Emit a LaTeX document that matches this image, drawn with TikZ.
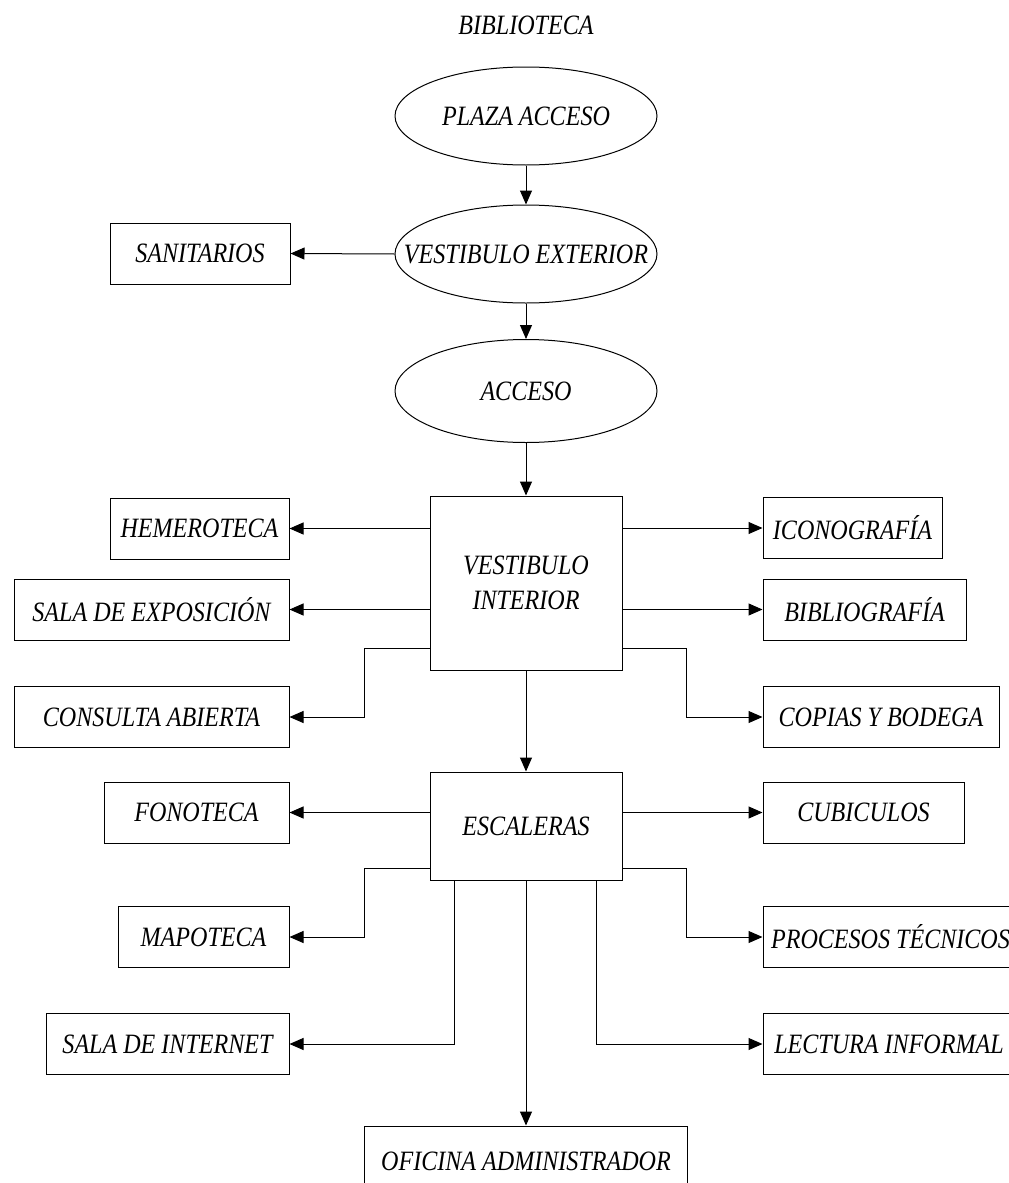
\documentclass[tikz,border=0pt]{standalone}
\usepackage{fontspec}
\setmainfont{Liberation Serif}[FakeStretch=0.86]
\usetikzlibrary{
    arrows.meta,
    shapes.geometric
}

\begin{document}
\begin{tikzpicture}[
    x=1pt,
    y=-1pt,
    every node/.style={
        font=\fontsize{28pt}{35pt}\selectfont\itshape
    },
    elipse/.style={
        ellipse,
        draw,
        line width=1pt,
        minimum width=262pt,
        minimum height=98pt,
        inner sep=0pt
    },
    caja/.style={
        rectangle,
        draw,
        line width=1pt,
        minimum width=#1,
        minimum height=61pt,
        inner sep=0pt
    },
    flecha/.style={
        line width=1pt,
        -{Triangle[length=14pt,width=12pt]}
    }
]

    % Page frame
    \clip (0,0) rectangle (1009,1183);

    % Title
    \node (titulo) at (526,25) {BIBLIOTECA};

    % Entrance sequence
    \node[elipse] (plaza) at (526,116)
        {\makebox[0pt]{PLAZA ACCESO}};
    \node[elipse] (vext) at (526,254)
        {\makebox[0pt]{VESTIBULO EXTERIOR}};
    \node[elipse, minimum height=103pt] (acceso) at (526,391)
        {\makebox[0pt]{ACCESO}};

    % Central halls
    \node[caja=192pt, minimum height=174pt, align=center] (vint) at (526,583)
        {VESTIBULO\\INTERIOR};
    \node[caja=192pt, minimum height=108pt] (escal) at (526,826)
        {ESCALERAS};

    % Rooms on the left
    \node[caja=180pt] (sanit) at (200,253.5) {SANITARIOS};
    \node[caja=179pt] (hemer) at (199.5,528.5) {HEMEROTECA};
    \node[caja=275pt] (expos) at (151.5,609.5) {SALA DE EXPOSICIÓN};
    \node[caja=275pt] (consul) at (151.5,717) {CONSULTA ABIERTA};
    \node[caja=185pt] (fonot) at (196.5,812.5) {FONOTECA};
    \node[caja=171pt] (mapot) at (203.5,937) {MAPOTECA};
    \node[caja=243pt] (intern) at (167.5,1044) {SALA DE INTERNET};

    % Rooms on the right
    \node[caja=179pt] (icono) at (852.5,528) {ICONOGRAFÍA};
    \node[caja=203pt] (biblio) at (864.5,609.5) {BIBLIOGRAFÍA};
    \node[caja=236pt] (copias) at (881,717) {COPIAS Y BODEGA};
    \node[caja=201pt] (cubic) at (863.5,812.5) {CUBICULOS};
    \node[caja=255pt] (proces) at (890.5,937) {PROCESOS TÉCNICOS};
    \node[caja=252pt] (lectura) at (889,1044) {LECTURA INFORMAL};

    % Bottom
    \node[caja=323pt, minimum height=70pt] (oficina) at (526,1161)
        {OFICINA ADMINISTRADOR};

    % Main axis
    \draw[flecha] (plaza.south) -- (vext.north);
    \draw[flecha] (vext.west) -- (sanit.east);
    \draw[flecha] (vext.south) -- (acceso.north);
    \draw[flecha] (acceso.south) -- (vint.north);
    \draw[flecha] (vint.south) -- (escal.north);
    \draw[flecha] (escal.south) -- (oficina.north);

    % From vestibulo interior
    \draw[flecha] (vint.west |- hemer.east) -- (hemer.east);
    \draw[flecha] (vint.west |- expos.east) -- (expos.east);
    \draw[flecha] ([yshift=22pt]vint.south west) -- ++(-65,0) |- (consul.east);
    \draw[flecha] (vint.east |- icono.west) -- (icono.west);
    \draw[flecha] (vint.east |- biblio.west) -- (biblio.west);
    \draw[flecha] ([yshift=22pt]vint.south east) -- ++(64,0) |- (copias.west);

    % From escaleras
    \draw[flecha] (escal.west |- fonot.east) -- (fonot.east);
    \draw[flecha] ([yshift=12pt]escal.south west) -- ++(-65,0) |- (mapot.east);
    \draw[flecha] ([xshift=25pt]escal.south west) |- (intern.east);
    \draw[flecha] (escal.east |- cubic.west) -- (cubic.west);
    \draw[flecha] ([yshift=12pt]escal.south east) -- ++(64,0) |- (proces.west);
    \draw[flecha] ([xshift=-26pt]escal.south east) |- (lectura.west);

\end{tikzpicture}
\end{document}
